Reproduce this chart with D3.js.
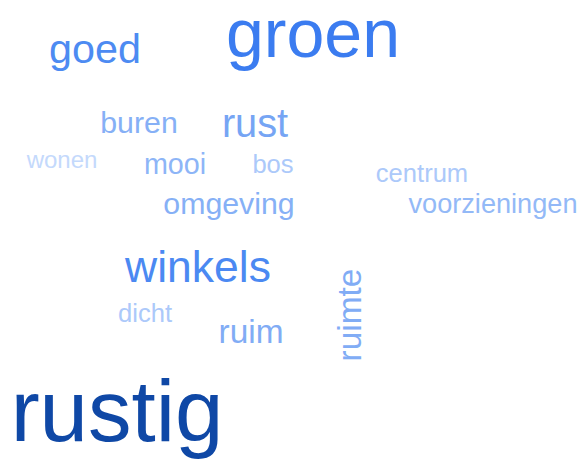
<!DOCTYPE html>
<html>
<head>
<meta charset="utf-8">
<script src="https://cdn.jsdelivr.net/npm/d3@7"></script>
<style>
  html, body { margin: 0; padding: 0; background: #fff; }
  svg { display: block; }
  .word { font-family: "Liberation Sans", Arial, sans-serif; }
</style>
</head>
<body>
<svg id="chart" width="578" height="461"></svg>
<script>
// Words and how often they were mentioned
var words = ['rustig', 'groen', 'winkels', 'goed', 'rust', 'ruim', 'ruimte', 'buren',
    'omgeving', 'mooi', 'voorzieningen', 'dicht', 'bos', 'centrum', 'wonen'];
var counts = [42, 30, 15, 13, 12, 8, 8, 6, 6, 5, 4, 3, 3, 3, 2];

// Layout of the cloud (word centre / baseline in a 578 x 461 layout space)
var layoutX = [117, 313, 198, 95, 255, 251, 361, 139, 229, 175, 493, 145, 273, 422, 62];
var layoutY = [441, 57, 282, 63, 137, 343, 315, 133, 214, 174, 213, 322, 173, 182, 168];
var rotations = [0, 0, 0, 0, 0, 0, -90, 0, 0, 0, 0, 0, 0, 0, 0];

var svg = d3.select('#chart');
var svgWidth = +svg.attr('width');
var svgHeight = +svg.attr('height');

var xScale = d3.scaleLinear().domain([0, 578]).range([0, svgWidth]);
var yScale = d3.scaleLinear().domain([0, 461]).range([0, svgHeight]);

// Font size grows with the count
var sizeScale = d3.scaleLinear()
    .domain([d3.min(counts), d3.max(counts)])
    .range([24, 87]);

// Light blue for rare words, dark blue for the most frequent
var colorScale = d3.scaleLinear()
    .domain([2, 4, 6, 12, 13, 30, 42])
    .range(['#c4d9fc', '#93b9f7', '#86b0f6', '#76a5f4', '#4d8bf2', '#3b7cf0', '#0f48a6'])
    .interpolate(d3.interpolateRgb);

var data = words.map(function (w, i) {
    return { text: w, count: counts[i], x: layoutX[i], y: layoutY[i], rotate: rotations[i] };
});

svg.append('g')
    .selectAll('text')
    .data(data)
    .enter()
    .append('text')
    .attr('class', 'word')
    .attr('text-anchor', 'middle')
    .attr('transform', function (d) {
        return 'translate(' + [xScale(d.x), yScale(d.y)] + ') rotate(' + d.rotate + ')';
    })
    .style('font-size', function (d) { return sizeScale(d.count) + 'px'; })
    .style('fill', function (d) { return colorScale(d.count); })
    .text(function (d) { return d.text; });
</script>
</body>
</html>
